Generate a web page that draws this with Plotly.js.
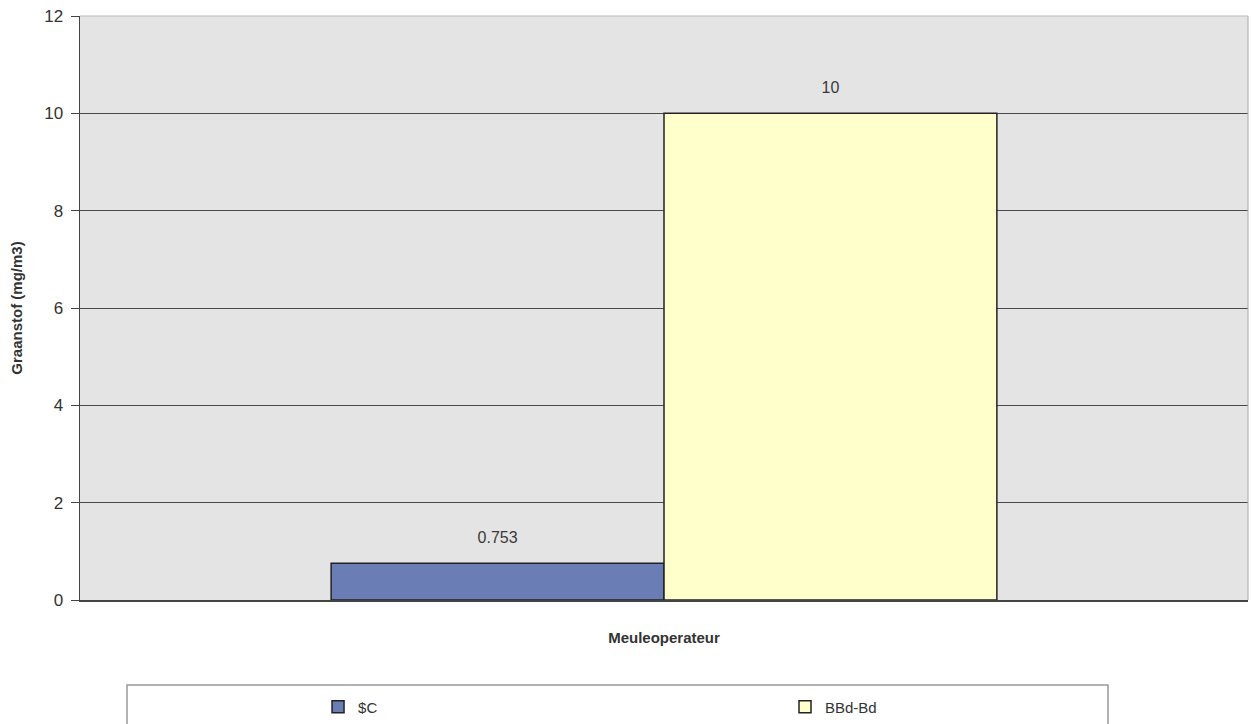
<!DOCTYPE html>
<html>
<head>
<meta charset="utf-8">
<script src="https://cdn.plot.ly/plotly-3.0.1.min.js"></script>
<style>html,body{margin:0;padding:0;background:#fff;}#chart{width:1256px;height:724px;}</style>
</head>
<body>
<div id="chart"></div>
<script>
const categories = ["Meuleoperateur"];
const seriesNames = ["$C", "BBd-Bd"];
const valuesSC = [0.753];
const valuesBBd = [10];
const labelsSC = ["0.753"];
const labelsBBd = ["10"];
const yTicks = [0, 2, 4, 6, 8, 10, 12];

const font = "Liberation Sans, Arial, sans-serif";
const labelFont = {family: font, size: 16, color: "#3a3a3a"};
const traces = [
  {
    type: "bar", name: seriesNames[0], x: categories, y: valuesSC,
    offsetgroup: "g1",
    marker: {color: "#6b7db5", line: {color: "#222", width: 1.5}},
    legend: "legend"
  },
  {
    type: "bar", name: seriesNames[1], x: categories, y: valuesBBd,
    offsetgroup: "g2",
    marker: {color: "#ffffcc", line: {color: "#222", width: 1.5}},
    legend: "legend2"
  },
  {
    type: "scatter", mode: "markers+text", x: categories, y: valuesSC,
    offsetgroup: "g1", text: labelsSC, textposition: "top center",
    textfont: labelFont, cliponaxis: false,
    marker: {size: 24, opacity: 0}, showlegend: false, hoverinfo: "skip"
  },
  {
    type: "scatter", mode: "markers+text", x: categories, y: valuesBBd,
    offsetgroup: "g2", text: labelsBBd, textposition: "top center",
    textfont: labelFont, cliponaxis: false,
    marker: {size: 24, opacity: 0}, showlegend: false, hoverinfo: "skip"
  }
];

const layout = {
  width: 1256, height: 724,
  margin: {l: 80, r: 8, t: 16, b: 124},
  paper_bgcolor: "#ffffff",
  plot_bgcolor: "#e4e4e4",
  font: {family: font, color: "#333"},
  barmode: "group",
  bargap: 0.43,
  bargroupgap: 0,
  scattermode: "group",
  scattergap: 0.43,
  xaxis: {
    showticklabels: false, ticks: "",
    showline: true, linecolor: "#444", linewidth: 1.5,
    automargin: false,
    title: {text: "<b>Meuleoperateur</b>", font: {family: font, size: 15, color: "#333"}, standoff: 32},
    fixedrange: true
  },
  yaxis: {
    range: [0, 12], tickvals: yTicks, ticktext: yTicks.map(String),
    tickfont: {family: font, size: 17, color: "#333"},
    ticks: "outside", ticklen: 8, tickcolor: "#444",
    ticklabelstandoff: 4,
    showline: true, linecolor: "#444", linewidth: 1.5,
    showgrid: true, gridcolor: "#4a4a4a", gridwidth: 1,
    zeroline: false, automargin: false,
    title: {text: "<b>Graanstof (mg/m3)</b>", font: {family: font, size: 15, color: "#333"}, standoff: 18}
  },
  showlegend: true,
  legend: {
    x: 0.2038, xanchor: "left", yref: "container", y: 0.0235, yanchor: "middle",
    orientation: "h", bgcolor: "rgba(0,0,0,0)", borderwidth: 0,
    font: {family: font, size: 15, color: "#333"}
  },
  legend2: {
    x: 0.6036, xanchor: "left", yref: "container", y: 0.0235, yanchor: "middle",
    orientation: "h", bgcolor: "rgba(0,0,0,0)", borderwidth: 0,
    font: {family: font, size: 15, color: "#333"}
  },
  shapes: [
    {type: "rect", xref: "paper", yref: "paper",
     x0: (127 - 80) / 1168, x1: (1108 - 80) / 1168,
     y0: (600 - 685) / 584, y1: (600 - 740) / 584,
     line: {color: "#999", width: 1.5}, fillcolor: "rgba(0,0,0,0)", layer: "below"},
    {type: "line", xref: "paper", yref: "paper", x0: 1, x1: 1, y0: 0, y1: 1,
     line: {color: "#aaa", width: 1}},
    {type: "line", xref: "paper", yref: "paper", x0: 0, x1: 1, y0: 1, y1: 1,
     line: {color: "#bbb", width: 1}}
  ]
};

Plotly.newPlot("chart", traces, layout, {displayModeBar: false, staticPlot: true});
</script>
</body>
</html>
